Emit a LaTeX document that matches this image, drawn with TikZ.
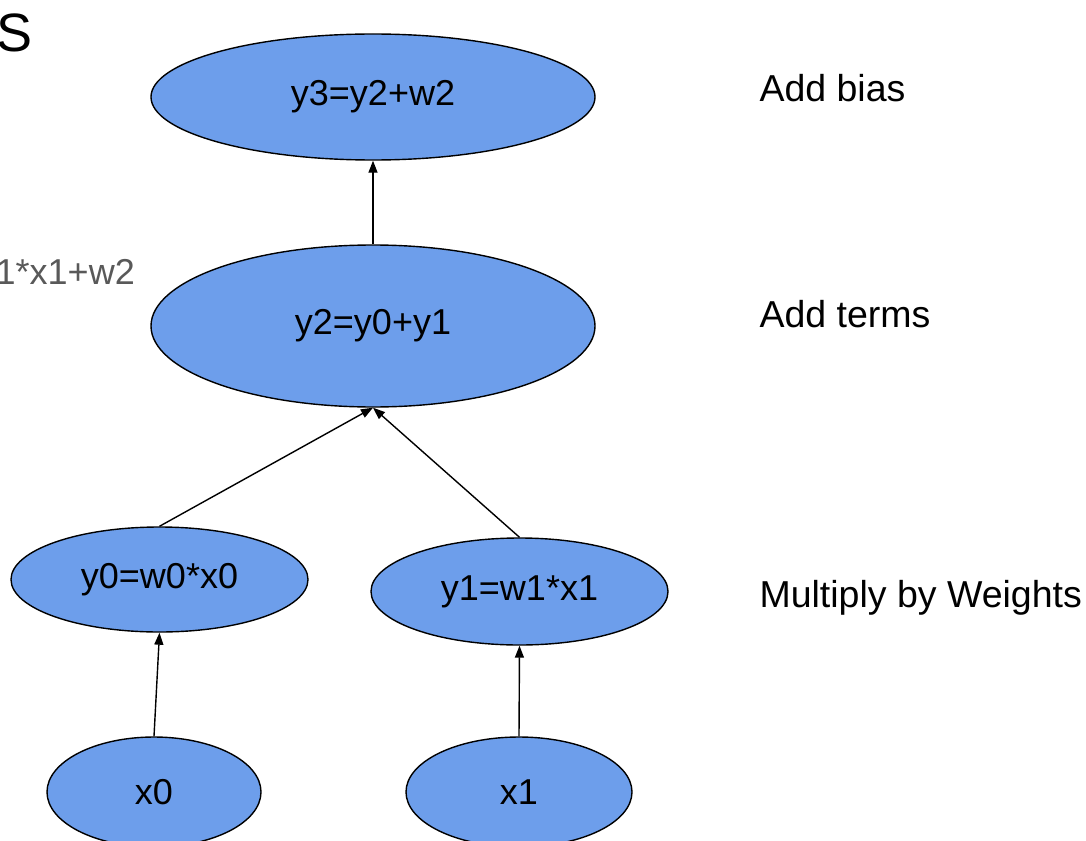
\documentclass[tikz,border=0pt]{standalone}
\usepackage{fontspec}
\setmainfont{Liberation Sans}
\usetikzlibrary{shapes.geometric,arrows.meta}
\definecolor{nodeblue}{HTML}{6D9EEB}
\definecolor{labelgray}{HTML}{595959}
\begin{document}
\begin{tikzpicture}[x=1pt,y=-1pt,
  op/.style={ellipse,draw=black,line width=1.4pt,fill=nodeblue,inner sep=0pt,
    font=\fontsize{36}{43}\selectfont},
  conn/.style={line width=1.4pt,-{Triangle[length=12pt,width=9pt]}},
  side/.style={anchor=west,font=\fontsize{37.5}{44}\selectfont}]
\useasboundingbox (0,0) rectangle (1086,840);
\node[op,minimum width=444pt,minimum height=126pt] (y3) at (373,97) {y3=y2+w2};
\node[op,minimum width=444pt,minimum height=162pt] (y2) at (373,326) {y2=y0+y1};
\node[op,minimum width=297pt,minimum height=105pt] (y0) at (159.5,579.5) {y0=w0*x0};
\node[op,minimum width=297pt,minimum height=107pt] (y1) at (519.5,591.5) {y1=w1*x1};
\node[op,minimum width=214pt,minimum height=110pt] (x0) at (154,792) {x0};
\node[op,minimum width=226pt,minimum height=110pt] (x1) at (519,792) {x1};
\draw[conn] (x0.north) -- (y0.south);
\draw[conn] (x1.north) -- (y1.south);
\draw[conn] (y0.north) -- (y2.south);
\draw[conn] (y1.north) -- (y2.south);
\draw[conn] (y2.north) -- (y3.south);
\node[side] (t3) at (756,88) {Add bias};
\node[side] (t2) at (756,314) {Add terms};
\node[side] (t1) at (756,598) {Multiply by Weights};
\node[anchor=east,text=labelgray,font=\fontsize{36}{43}\selectfont,inner sep=0pt] (eq) at (135,272) {1*x1+w2};
\node[anchor=east,font=\fontsize{54}{60}\selectfont,inner sep=0pt] (s) at (33,33) {S};
\end{tikzpicture}
\end{document}
